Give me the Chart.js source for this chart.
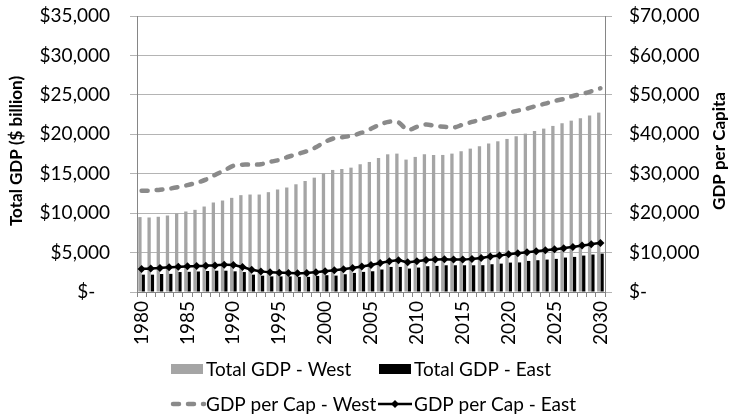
<!DOCTYPE html>
<html>
<head>
<meta charset="utf-8">
<script src="https://cdn.jsdelivr.net/npm/chart.js@4.4.1/dist/chart.umd.min.js"></script>
<style>
  html, body { margin: 0; padding: 0; background: #fff; }
  #wrap { width: 732px; height: 415px; position: relative; }
</style>
</head>
<body>
<div id="wrap"><canvas id="gdpChart" width="732" height="415"></canvas></div>
<script>
// Series, 1980-2030
const years = [
  '1980','1981','1982','1983','1984','1985','1986','1987','1988','1989',
  '1990','1991','1992','1993','1994','1995','1996','1997','1998','1999',
  '2000','2001','2002','2003','2004','2005','2006','2007','2008','2009',
  '2010','2011','2012','2013','2014','2015','2016','2017','2018','2019',
  '2020','2021','2022','2023','2024','2025','2026','2027','2028','2029',
  '2030'
];

// Total GDP ($ billion)
const gdpWest = [
  9500, 9450, 9540, 9700, 9960, 10210, 10420, 10840, 11350, 11600,
  11940, 12280, 12360, 12360, 12660, 13000, 13250, 13660, 14080, 14500,
  15050, 15480, 15600, 15770, 16200, 16490, 17000, 17460, 17550, 16790,
  17130, 17460, 17380, 17380, 17550, 17850, 18180, 18480, 18820, 19110,
  19410, 19750, 20080, 20420, 20720, 21060, 21400, 21730, 22030, 22370,
  22750
];
const gdpEast = [
  2200, 2200, 2280, 2300, 2530, 2560, 2600, 2660, 2700, 2700,
  2620, 2530, 2200, 2070, 1980, 1980, 1980, 1920, 1920, 2040,
  2130, 2080, 2250, 2420, 2550, 2630, 2850, 3180, 3180, 2970,
  3100, 3270, 3310, 3390, 3390, 3390, 3390, 3400, 3520, 3600,
  3730, 3750, 3940, 4030, 4110, 4200, 4370, 4450, 4620, 4750,
  4870
];

// GDP per capita ($)
const perCapWest = [
  25700, 25700, 25950, 26200, 26600, 27100, 27700, 28500, 29700, 30800,
  32000, 32300, 32300, 32400, 33000, 33500, 34300, 35000, 35700, 36700,
  38100, 39000, 39300, 39700, 40400, 41400, 42500, 43200, 43000, 41100,
  41900, 42500, 42100, 41900, 41700, 42450, 43130, 43720, 44400, 44900,
  45500, 46000, 46500, 47180, 47770, 48450, 48960, 49720, 50220, 50900,
  51660
];
const perCapEast = [
  5820, 5990, 6080, 6250, 6410, 6500, 6580, 6670, 6750, 6920,
  6840, 6330, 5650, 5230, 4980, 4900, 4810, 4760, 4850, 5010,
  5270, 5520, 5780, 6110, 6450, 6870, 7380, 7800, 8060, 7550,
  7800, 8140, 8230, 8310, 8230, 8230, 8400, 8650, 9000, 9240,
  9580, 9830, 10080, 10340, 10590, 10850, 11100, 11440, 11780, 12110,
  12450
];

const leftTitle = 'Total GDP ($ billion)';
const rightTitle = 'GDP per Capita';

const FONT = 'Lato';
const GREY_BAR = '#a5a5a5';
const GREY_LINE = '#8a8a8a';
const AXIS = '#868686';
const GRID = '#b4b4b4';

const money = v => v === 0 ? '$-' : '$' + v.toLocaleString('en-US');

// fixed gutter for a y axis; drop the label padding chart.js adds above/below
const pinY = w => s => {
  s.width = w;
  s.paddingTop = 0;
  s.paddingBottom = 0;
};

// axis titles + two-row legend drawn by hand
const extras = {
  id: 'extras',
  afterDraw(chart) {
    const ctx = chart.ctx;
    const area = chart.chartArea;
    const midY = (area.top + area.bottom) / 2 - 3;
    ctx.save();
    ctx.fillStyle = '#000';
    ctx.font = `bold 17px ${FONT}`;
    ctx.textAlign = 'center';
    ctx.textBaseline = 'middle';
    [[17, leftTitle], [720, rightTitle]].forEach(([x, t]) => {
      ctx.save();
      ctx.translate(x, midY);
      ctx.rotate(-Math.PI / 2);
      ctx.fillText(t, 0, 0);
      ctx.restore();
    });

    // legend
    const items = [
      { ds: 0, x: 171, y: 369, kind: 'box' },
      { ds: 1, x: 379, y: 369, kind: 'box' },
      { ds: 2, x: 170, y: 404, kind: 'dash' },
      { ds: 3, x: 378, y: 404, kind: 'marker' }
    ];
    ctx.font = `19px ${FONT}`;
    ctx.textAlign = 'left';
    items.forEach(it => {
      const ds = chart.data.datasets[it.ds];
      if (it.kind === 'box') {
        ctx.fillStyle = ds.backgroundColor;
        ctx.fillRect(it.x, it.y - 5, 32, 10);
      } else {
        ctx.save();
        ctx.strokeStyle = ds.borderColor;
        ctx.lineWidth = ds.borderWidth;
        ctx.lineCap = it.kind === 'dash' ? 'round' : 'butt';
        if (it.kind === 'dash') ctx.setLineDash([6, 9]);
        ctx.beginPath();
        ctx.moveTo(it.x + (it.kind === 'dash' ? 3 : 0), it.y);
        ctx.lineTo(it.x + 34, it.y);
        ctx.stroke();
        if (it.kind === 'marker') {
          const cx = it.x + 17;
          ctx.fillStyle = ds.borderColor;
          ctx.beginPath();
          ctx.moveTo(cx, it.y - 4);
          ctx.lineTo(cx + 4, it.y);
          ctx.lineTo(cx, it.y + 4);
          ctx.lineTo(cx - 4, it.y);
          ctx.closePath();
          ctx.fill();
        }
        ctx.restore();
      }
      ctx.fillStyle = '#000';
      ctx.fillText(ds.label, it.x + (it.kind === 'box' ? 35 : 36), it.y + 1);
    });
    ctx.restore();
  }
};

new Chart(document.getElementById('gdpChart'), {
  type: 'bar',
  data: {
    labels: years,
    datasets: [
      {
        label: 'Total GDP - West',
        data: gdpWest,
        backgroundColor: GREY_BAR,
        yAxisID: 'y',
        categoryPercentage: 0.72,
        barPercentage: 1,
        order: 3
      },
      {
        label: 'Total GDP - East',
        data: gdpEast,
        backgroundColor: '#000',
        yAxisID: 'y',
        categoryPercentage: 0.72,
        barPercentage: 1,
        order: 3
      },
      {
        type: 'line',
        label: 'GDP per Cap - West',
        data: perCapWest,
        borderColor: GREY_LINE,
        backgroundColor: GREY_LINE,
        borderWidth: 4.5,
        borderDash: [6, 9],
        borderCapStyle: 'round',
        tension: 0.3,
        pointRadius: 0,
        yAxisID: 'y1',
        order: 1
      },
      {
        type: 'line',
        label: 'GDP per Cap - East',
        data: perCapEast,
        borderColor: '#000',
        backgroundColor: '#000',
        borderWidth: 2.5,
        tension: 0.3,
        pointStyle: 'rectRot',
        pointRadius: 4,
        pointBorderWidth: 0,
        yAxisID: 'y1',
        order: 0
      }
    ]
  },
  options: {
    responsive: false,
    animation: false,
    layout: { padding: { top: 16, left: 0, right: 0, bottom: 0 } },
    plugins: {
      legend: { display: false },
      tooltip: { enabled: false }
    },
    scales: {
      x: {
        afterFit: s => { s.height = 123; },
        border: { color: AXIS },
        grid: { drawOnChartArea: false, color: AXIS, tickLength: 5 },
        ticks: {
          autoSkip: false,
          minRotation: 90,
          maxRotation: 90,
          padding: 4,
          color: '#000',
          font: { family: FONT, size: 19 },
          callback: function (v, i) {
            const lbl = this.getLabelForValue(v);
            return Number(lbl) % 5 === 0 ? lbl : '';
          }
        }
      },
      y: {
        position: 'left',
        min: 0,
        max: 35000,
        afterFit: pinY(137),
        border: { color: AXIS },
        grid: { color: GRID, tickLength: 7 },
        ticks: {
          stepSize: 5000,
          padding: 20,
          color: '#000',
          font: { family: FONT, size: 19 },
          callback: v => v === 0 ? '$-   ' : money(v)
        }
      },
      y1: {
        position: 'right',
        min: 0,
        max: 70000,
        afterFit: pinY(127),
        border: { color: AXIS },
        grid: { drawOnChartArea: false, color: GRID, tickLength: 7 },
        ticks: {
          stepSize: 10000,
          padding: 17,
          color: '#000',
          font: { family: FONT, size: 19 },
          callback: money
        }
      }
    }
  },
  plugins: [extras]
});
</script>
</body>
</html>
